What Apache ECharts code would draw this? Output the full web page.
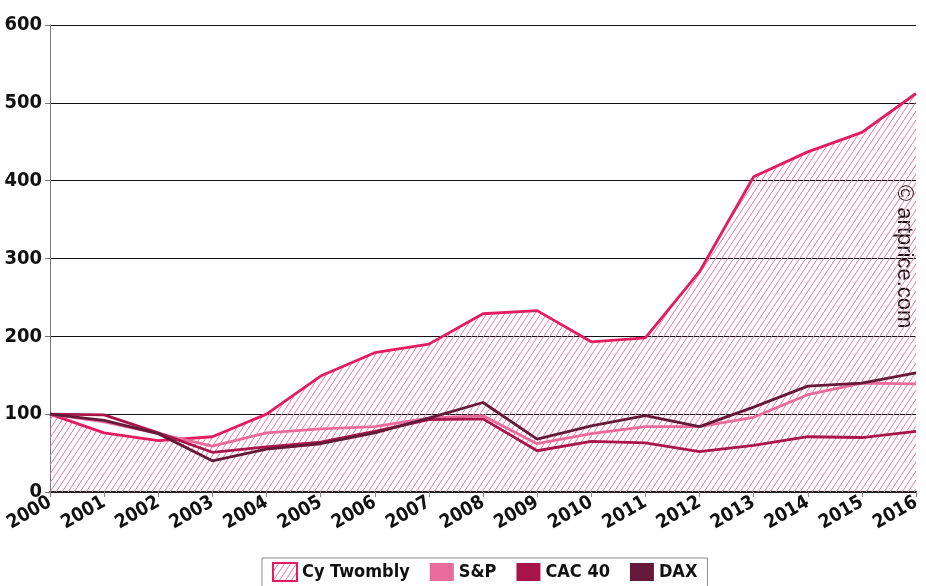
<!DOCTYPE html>
<html>
<head>
<meta charset="utf-8">
<script src="https://cdn.jsdelivr.net/npm/echarts@6/dist/echarts.min.js"></script>
<style>
  html, body { margin: 0; padding: 0; background: #fff; }
  #chart { width: 926px; height: 586px; }
</style>
</head>
<body>
<div id="chart"></div>
<script>
var years = ['2000', '2001', '2002', '2003', '2004', '2005', '2006', '2007', '2008',
  '2009', '2010', '2011', '2012', '2013', '2014', '2015', '2016'];
var twombly = [100, 76, 66, 71, 100, 149, 179, 190, 229, 233, 193, 198, 283, 405, 437, 462, 512];
var sp = [100, 90, 75, 59, 76, 81, 84, 95, 98, 62, 75, 84, 84, 96, 125, 140, 139];
var cac40 = [100, 99, 76, 51, 58, 64, 78, 93, 94, 53, 65, 63, 52, 60, 71, 70, 78];
var dax = [100, 92, 75, 40, 55, 62, 76, 95, 115, 68, 85, 98, 84, 109, 136, 140, 153];

var FONT = '"DejaVu Sans Condensed", "Liberation Sans Narrow", sans-serif';

// hatch pattern for the Twombly area
function makeHatch() {
  var w = 6, h = 9;
  var c = document.createElement('canvas');
  c.width = w; c.height = h;
  var ctx = c.getContext('2d');
  ctx.strokeStyle = '#ee78a0';
  ctx.lineWidth = 1;
  ctx.beginPath();
  ctx.moveTo(-w, h); ctx.lineTo(0, 0);
  ctx.moveTo(0, h); ctx.lineTo(w, 0);
  ctx.moveTo(w, h); ctx.lineTo(2 * w, 0);
  ctx.stroke();
  return c;
}
var hatch = { image: makeHatch(), repeat: 'repeat' };

var myChart = echarts.init(document.getElementById('chart'));
myChart.setOption({
  animation: false,
  grid: { left: 50, right: 10, top: 25, bottom: 94 },
  legend: {
    bottom: -1,
    left: 262,
    icon: 'rect',
    itemWidth: 24,
    itemHeight: 18,
    itemGap: 20,
    padding: [4, 10, 5, 10],
    borderColor: '#888',
    borderWidth: 1,
    textStyle: { fontFamily: FONT, fontWeight: 'bold', fontSize: 18, color: '#111' },
    data: [
      { name: 'Cy Twombly', itemStyle: { color: hatch, borderColor: '#e31c5f', borderWidth: 2 } },
      { name: 'S&P', itemStyle: { color: '#e86b9b' } },
      { name: 'CAC 40', itemStyle: { color: '#a81549' } },
      { name: 'DAX', itemStyle: { color: '#641a38' } }
    ]
  },
  xAxis: {
    type: 'category',
    boundaryGap: false,
    data: years,
    axisLine: { lineStyle: { color: '#222', width: 2 } },
    axisTick: { length: 5, lineStyle: { color: '#888' } },
    axisLabel: {
      rotate: 30, margin: 9, color: '#111',
      fontFamily: FONT, fontWeight: 'bold', fontSize: 19
    },
    splitLine: { show: false }
  },
  yAxis: {
    type: 'value',
    min: 0, max: 600, interval: 100,
    axisLine: { show: true, lineStyle: { color: '#777', width: 1 } },
    axisTick: { show: true, length: 5, lineStyle: { color: '#777' } },
    axisLabel: {
      margin: 8, color: '#111',
      fontFamily: FONT, fontWeight: 'bold', fontSize: 20
    },
    splitLine: { lineStyle: { color: '#111', width: 1 } }
  },
  series: [
    {
      name: 'Cy Twombly', type: 'line', data: twombly,
      symbol: 'none', z: 2,
      lineStyle: { color: '#e31c5f', width: 2.8 },
      itemStyle: { color: '#e31c5f' },
      areaStyle: { color: hatch, opacity: 1, origin: 'start' }
    },
    {
      name: 'S&P', type: 'line', data: sp, symbol: 'none', z: 3,
      lineStyle: { color: '#e86b9b', width: 2.8 }, itemStyle: { color: '#e86b9b' }
    },
    {
      name: 'CAC 40', type: 'line', data: cac40, symbol: 'none', z: 3,
      lineStyle: { color: '#a81549', width: 2.8 }, itemStyle: { color: '#a81549' }
    },
    {
      name: 'DAX', type: 'line', data: dax, symbol: 'none', z: 3,
      lineStyle: { color: '#641a38', width: 2.8 }, itemStyle: { color: '#641a38' }
    }
  ],
  graphic: [
    {
      type: 'text',
      left: 893, top: 185,
      rotation: -Math.PI / 2,
      style: {
        text: '© artprice.com',
        font: '22px "Liberation Sans", Arial, sans-serif',
        fill: '#111'
      }
    }
  ]
});
</script>
</body>
</html>
